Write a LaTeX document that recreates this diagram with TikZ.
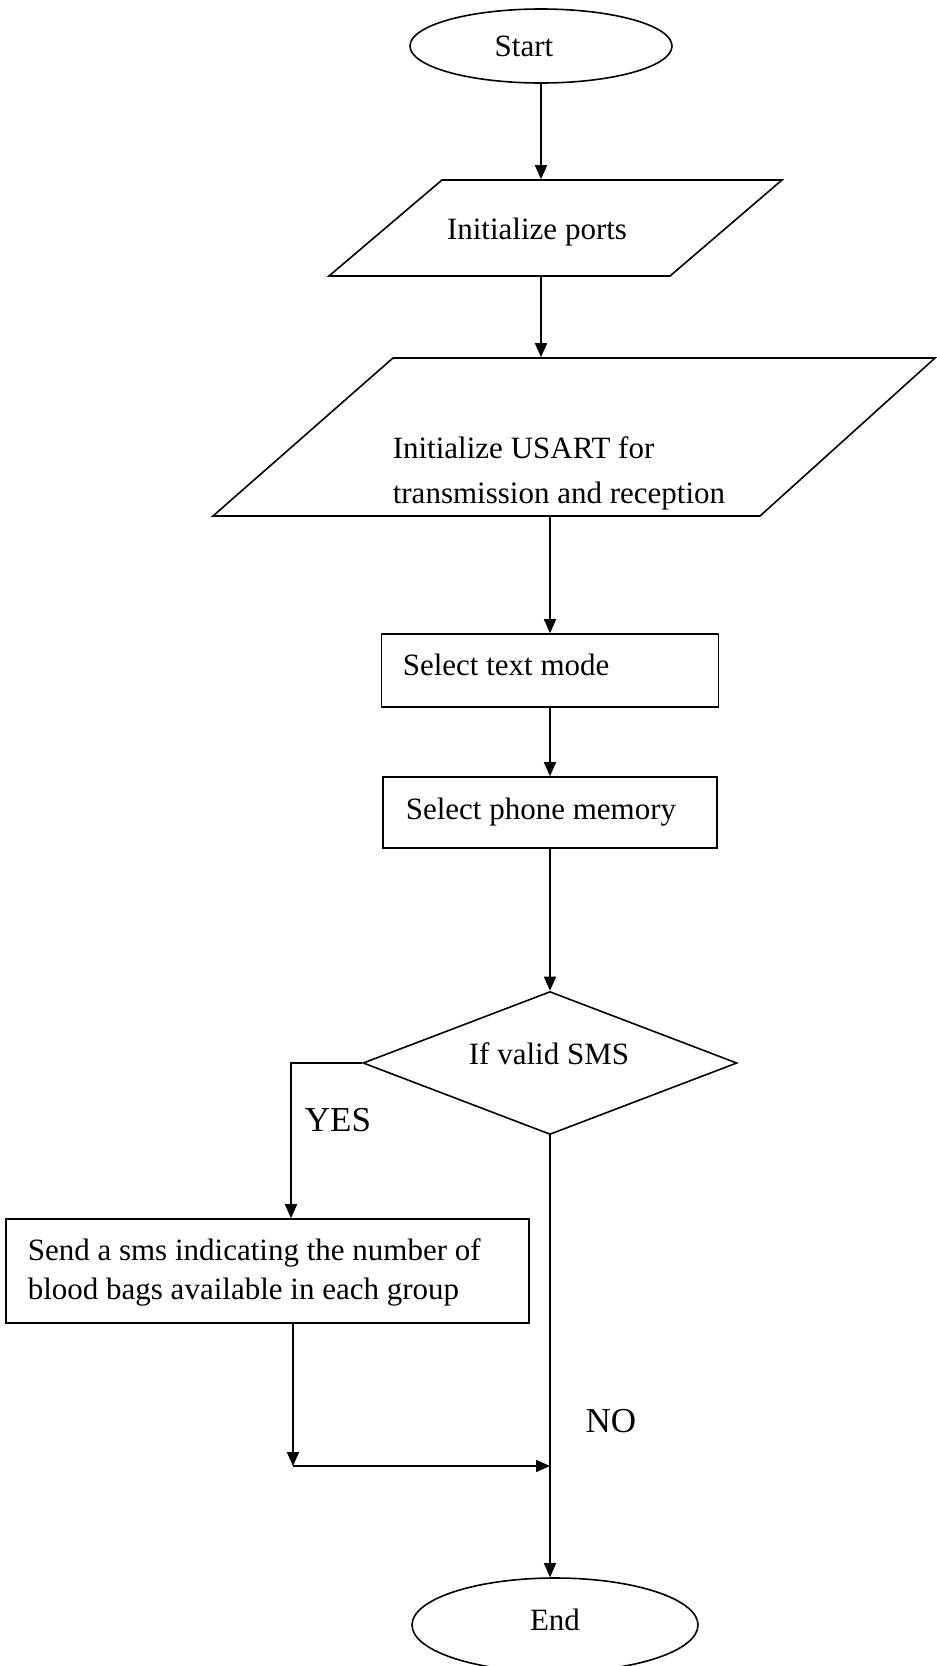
\documentclass[tikz,border=0pt]{standalone}
\usepackage{fontspec}
\setmainfont{Liberation Serif}
\usetikzlibrary{shapes.geometric,arrows.meta}
\begin{document}
\begin{tikzpicture}[x=1pt,y=-1pt,
  line width=1.6pt,
  every node/.style={font=\fontsize{31}{39}\selectfont},
  arr/.style={-{Triangle[length=14pt,width=12pt]}},
  term/.style={draw,ellipse,inner sep=0pt},
  boxnode/.style={draw,rectangle,inner sep=0pt},
  ghost/.style={inner sep=0pt},
  dec/.style={draw,diamond,inner sep=0pt},
  txt/.style={inner sep=0pt,align=left},
  lbl/.style={inner sep=0pt,font=\fontsize{35}{40}\selectfont}
]
\useasboundingbox (0,0) rectangle (937,1666);

% shapes
\node[term,minimum width=262pt,minimum height=74pt] (start) at (541,46) {};
\node[ghost,minimum width=340pt,minimum height=96pt] (p1) at (556,228) {};
\draw (442,180) -- (782,180) -- (670,276) -- (329,276) -- cycle;
\node[ghost,minimum width=545pt,minimum height=158pt] (p2) at (575,437) {};
\draw (393,358) -- (935,358) -- (760,516) -- (213,516) -- cycle;
\node[boxnode,minimum width=337pt,minimum height=73pt] (r1) at (550,670.5) {};
\node[boxnode,minimum width=334pt,minimum height=71pt] (r2) at (550,812.5) {};
\node[dec,minimum width=374pt,minimum height=143pt] (dia) at (550,1063) {};
\node[boxnode,minimum width=523pt,minimum height=104pt] (send) at (267.5,1271) {};
\node[term,minimum width=286pt,minimum height=94pt] (end) at (555,1625) {};

% texts
\node[txt] (startt) at (524,46) {Start};
\node[txt] (p1t) at (537,232) {Initialize ports};
\node[txt,anchor=west,font=\fontsize{31}{45}\selectfont] (p2t) at (392,473) {Initialize USART for\\transmission and reception};
\node[txt,anchor=west] (r1t) at (402,665) {Select text mode};
\node[txt,anchor=west] (r2t) at (405,812) {Select phone memory};
\node[txt] (diat) at (549,1054) {If valid SMS};
\node[txt,anchor=west] (sendt) at (27,1272) {Send a sms indicating the number of\\blood bags available in each group};
\node[txt] (endt) at (555,1620) {End};
\node[lbl] (yes) at (338,1120) {YES};
\node[lbl] (no) at (611,1421) {NO};

% connectors
\coordinate (ycorner) at (291,1063);
\coordinate (merge) at (293,1466);
\draw[arr] (start) -- (start |- p1.north);
\draw[arr] (start |- p1.south) -- (start |- p2.north);
\draw[arr] (r1.north |- p2.south) -- (r1.north);
\draw[arr] (r1.south) -- (r1.south |- r2.north);
\draw[arr] (r2.south) -- (r2.south |- dia.north);
\draw[arr] (dia.west) -- (ycorner) -- (ycorner |- send.north);
\draw[arr] (merge |- send.south) -- (merge);
\draw[arr] (merge) -- (merge -| dia.south);
\draw[arr] (dia.south) -- (dia.south |- end.north);
\end{tikzpicture}
\end{document}
